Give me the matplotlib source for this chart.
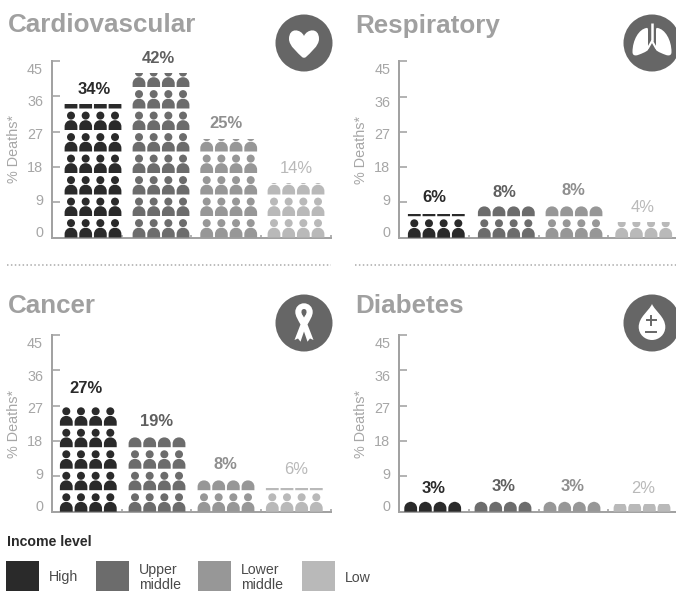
#!/usr/bin/env python3
"""Pictogram small multiples: % deaths by cause and income level."""
import math

import matplotlib
matplotlib.use("Agg")
import matplotlib.pyplot as plt
from matplotlib.path import Path
from matplotlib.patches import Circle, PathPatch, Rectangle
from matplotlib.transforms import Affine2D, ScaledTranslation

plt.rcParams["font.family"] = ["Liberation Sans", "DejaVu Sans"]

W, H = 676, 591
INCOME = ["High", "Upper\nmiddle", "Lower\nmiddle", "Low"]
COLORS = ["#2a2a2a", "#6c6c6c", "#979797", "#b9b9b9"]
LABEL_COLORS = ["#2a2a2a", "#5f5f5f", "#8f8f8f", "#b9b9b9"]
YTICKS = [0, 9, 18, 27, 36, 45]

# labels are these values rounded
cardiovascular = [34, 42, 25, 14]
respiratory = [6, 8, 8, 4]
cancer = [27, 19, 8, 6]
diabetes = [2.7, 2.7, 2.7, 1.9]

# layout in reference pixels: title x/y, axis x, baseline y, first icon x per
# group, value label x per group, gap between bar top and value label
PANELS = [
    ("Cardiovascular", (7.5, 25.5), cardiovascular, 52, 237.5, [71, 139, 206.7, 274],
     [94, 158, 225.7, 296], [15, 14, 15.5, 13.6], (304, 43), "heart"),
    ("Respiratory", (355.5, 25.5), respiratory, 399.3, 237.7, [414.3, 484.3, 552, 621.7],
     [434, 504, 573, 643], [17, 13.5, 15.5, 15], (652, 43), "lungs"),
    ("Cancer", (7.5, 306), cancer, 52, 511.7, [66.3, 135, 204, 272.3],
     [86, 156.7, 225.7, 296], [17, 15.5, 16, 19], (304, 323), "ribbon"),
    ("Diabetes", (355.5, 306), diabetes, 399.3, 511.7, [410.7, 481, 550, 620],
     [434, 504, 573, 642.7], [13, 15, 15, 16], (652, 323), "drop"),
]
AXIS_H = 176.5
PX = AXIS_H / 45          # pixels per percentage point
ROW = 21.5                # row pitch, px
PITCH = 14.67             # icon pitch, px
XTICK_STEP = 69.7
pt = 72 / 100


def person_path():
    body = Path([(-6.4, 0), (-6.4, 3.3), (-6.4, 7.2), (-3.6, 9.8), (0, 9.8),
                 (3.6, 9.8), (6.4, 7.2), (6.4, 3.3), (6.4, 0), (-6.4, 0)],
                [Path.MOVETO, Path.LINETO, Path.CURVE4, Path.CURVE4, Path.CURVE4,
                 Path.CURVE4, Path.CURVE4, Path.CURVE4, Path.LINETO, Path.CLOSEPOLY])
    head = Path.circle((0, 14.4), 4.0)
    return Path.make_compound_path(body, head)


PERSON = person_path()


def draw_bar(ax, x0, value, color):
    """Four columns of people, cut off at the value."""
    clip = Rectangle((0, 0), W + 60, value, transform=ax.transData)
    for i in range(4):
        for r in range(math.ceil(value * PX / ROW)):
            tr = Affine2D().translate(x0 + i * PITCH, r * ROW).scale(1, 1 / PX)
            p = PathPatch(PERSON.transformed(tr), fc=color, ec="none", zorder=3)
            ax.add_patch(p)
            p.set_clip_path(clip)


def draw_panel(fig, over, spec):
    title, title_xy, vals, ax_x, base, firsts, lab_x, gaps, icon_xy, icon = spec
    ax = fig.add_axes([ax_x / W, 1 - base / H, (W + 60 - ax_x) / W, AXIS_H / H])
    ax.patch.set_alpha(0)
    # x axis is in reference pixels so the group spacing can be kept as read
    ax.set_xlim(ax_x, W + 60)
    ax.set_ylim(0, 45)
    for s in ["top", "right"]:
        ax.spines[s].set_visible(False)
    for s in ["left", "bottom"]:
        ax.spines[s].set_color("#a2a2a2")
        ax.spines[s].set_linewidth(2 * pt)
    ax.spines["bottom"].set_bounds(ax_x, ax_x + 4 * XTICK_STEP)
    ax.set_xticks([ax_x + k * XTICK_STEP for k in range(1, 5)], labels=[])
    ax.tick_params(axis="x", direction="in", length=3 * pt, width=1.6 * pt,
                   color="#a2a2a2")
    ax.set_yticks(YTICKS, labels=[str(t) for t in YTICKS])
    ax.tick_params(axis="y", direction="in", length=7.5 * pt, width=1.6 * pt,
                   color="#a2a2a2", labelcolor="#a6a6a6", labelsize=10.4,
                   pad=9 * pt)
    # tick labels sit on a tighter spacing than the ticks in the original
    for t, lab in zip(YTICKS, ax.get_yticklabels()):
        dy = (5.8 + t * PX * 0.926 - t * PX) * pt / 72
        lab.set_transform(lab.get_transform()
                          + ScaledTranslation(0, dy, fig.dpi_scale_trans))
    ax.text(ax_x - 38, 22.5, "% Deaths*", rotation=90, ha="center", va="center",
            color="#a6a6a6", fontsize=10.4)

    for k, v in enumerate(vals):
        draw_bar(ax, firsts[k], v, COLORS[k])
        weight = "bold" if k < 3 else "normal"
        ax.annotate(f"{v:.0f}%", (lab_x[k], v), xytext=(0, gaps[k] * pt),
                    textcoords="offset points", ha="center", va="center",
                    color=LABEL_COLORS[k], fontsize=11.9, fontweight=weight,
                    annotation_clip=False)

    over.text(title_xy[0], title_xy[1], title, fontsize=18.7, fontweight="bold",
              color="#a0a0a0", ha="left", va="center")
    draw_icon(over, icon_xy, icon)


def bez(x, y, pts, codes, fc):
    tr = Affine2D().translate(x, y)
    return PathPatch(Path(pts, codes).transformed(tr), fc=fc, ec="none", zorder=6)


def draw_icon(over, xy, kind):
    x, y = xy
    gray = "#666666"
    over.add_patch(Circle(xy, 28.5, fc=gray, ec="none", zorder=5))
    M, L, C, Z = Path.MOVETO, Path.LINETO, Path.CURVE4, Path.CLOSEPOLY
    if kind == "heart":
        pts = [(0, -7), (3, -14), (15, -16), (15, -4), (15, 3), (6, 10),
               (2, 14), (1, 15), (-1, 15), (-2, 14), (-6, 10), (-15, 3),
               (-15, -4), (-15, -16), (-3, -14), (0, -7), (0, -7)]
        codes = [M] + [C] * 15 + [Z]
        over.add_patch(bez(x, y, pts, codes, "white"))
    elif kind == "lungs":
        left = [(-5.5, -15), (-13, -14), (-19.5, -3), (-19.5, 9), (-19.5, 12.5),
                (-17, 13), (-14, 12), (-10, 10.5), (-6, 9), (-4, 7), (-4, 0),
                (-4, -7), (-4, -13), (-4, -15), (-5, -15.5), (-5.5, -15), (-5.5, -15)]
        codes = [M] + [C] * 15 + [Z]
        over.add_patch(bez(x, y, left, codes, "white"))
        right = [(-a, b) for a, b in left]
        over.add_patch(bez(x, y, right, codes, "white"))
        over.plot([x, x], [y - 20, y - 2], color="white", lw=1.8, zorder=8,
                  solid_capstyle="butt")
        over.plot([x - 4, x, x + 4], [y + 5, y - 2, y + 5], color="white", lw=1.5,
                  zorder=8)
    elif kind == "ribbon":
        pts = [(0, -19.7), (-5, -19.7), (-8.7, -16), (-8.7, -11), (-8.7, -7),
               (-6, -3), (-3.5, 1.5), (-9.5, 17), (-6, 15.5), (-3.5, 18.7),
               (0, 8.5), (3.5, 18.7), (6, 15.5), (9.5, 17), (3.5, 1.5), (6, -3),
               (8.7, -7), (8.7, -11), (8.7, -16), (5, -19.7), (0, -19.7), (0, -19.7)]
        codes = [M, C, C, C, C, C, C, L, L, L, L, L, L, L, L, C, C, C, C, C, C, Z]
        over.add_patch(bez(x, y, pts, codes, "white"))
        hole = [(0, -14), (-3, -14), (-3.4, -10), (-1.2, -7.5), (0, -5.5), (1.2, -7.5),
                (3.4, -10), (3, -14), (0, -14), (0, -14)]
        over.add_patch(PathPatch(Path(hole, [M, C, C, L, L, L, C, C, C, Z]).transformed(
            Affine2D().translate(x, y)), fc=gray, ec="none", zorder=7))
    else:
        pts = [(0, -19), (-3, -12), (-13.3, -6), (-13.3, 4), (-13.3, 11.5), (-7, 17),
               (0, 17), (7, 17), (13.3, 11.5), (13.3, 4), (13.3, -6), (3, -12), (0, -19),
               (0, -19)]
        over.add_patch(bez(x, y, pts, [M] + [C] * 12 + [Z], "white"))
        over.plot([x - 5.5, x + 3.5], [y - 3, y - 3], color=gray, lw=1.4, zorder=7)
        over.plot([x - 1, x - 1], [y - 7.5, y + 1.5], color=gray, lw=1.4, zorder=7)
        over.plot([x - 6, x + 4], [y + 9.3, y + 9.3], color=gray, lw=1.4, zorder=7)


def main():
    fig = plt.figure(figsize=(W / 100, H / 100), dpi=100)
    over = fig.add_axes([0, 0, 1, 1])
    over.set_xlim(0, W)
    over.set_ylim(H, 0)
    over.axis("off")

    for spec in PANELS:
        draw_panel(fig, over, spec)

    for x0, x1 in [(7, 331), (355, 676)]:
        over.plot([x0, x1], [265, 265], color="#a8a8a8", lw=1.5 * pt,
                  linestyle=(0, (1, 1.6)))

    over.text(7, 542, "Income level", fontsize=10.2, fontweight="bold",
              color="#2a2a2a", ha="left", va="center")
    sw_x = [5.5, 96, 198, 302]
    tx_x = [49, 139, 241, 345]
    for k, name in enumerate(INCOME):
        over.add_patch(Rectangle((sw_x[k], 561), 33, 31, fc=COLORS[k], ec="none"))
        over.text(tx_x[k], 577.5, name, fontsize=10.2, color="#4a4a4a", ha="left",
                  va="center", linespacing=1.15)

    fig.savefig("out.png", dpi=100)


if __name__ == "__main__":
    main()
